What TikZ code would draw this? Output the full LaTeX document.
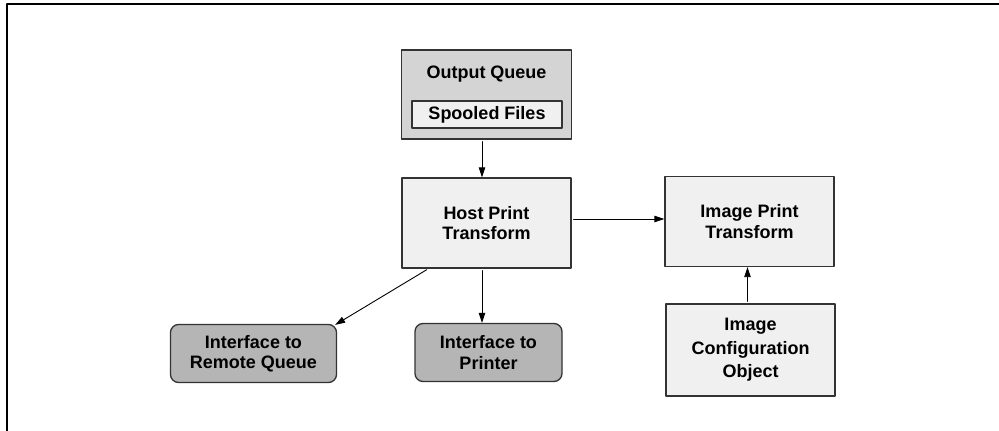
\documentclass[tikz,border=0pt]{standalone}
\usepackage{fontspec}
\setmainfont{Liberation Sans}
\usetikzlibrary{arrows.meta}
\definecolor{queuegray}{gray}{0.83}
\definecolor{paleGray}{gray}{0.94}
\definecolor{ifaceGray}{gray}{0.71}
\definecolor{edgeGray}{gray}{0.2}

\begin{document}
\begin{tikzpicture}[x=1pt,y=-1pt,>={Triangle[length=10pt,width=6.5pt]},line cap=round,line join=round,
  boxfont/.style={font=\bfseries\fontsize{18}{20.5}\selectfont},
  procbox/.style={boxfont,draw=edgeGray,fill=paleGray,line width=1.3pt,minimum width=169pt,minimum height=90pt,inner sep=0pt,align=center},
  ifacebox/.style={boxfont,draw=edgeGray,fill=ifaceGray,line width=1.3pt,rounded corners=8pt,minimum height=58pt,inner sep=0pt,align=center},
  flow/.style={->,line width=0.9pt,shorten <=2pt}]
\useasboundingbox (0,0) rectangle (999,431);
\draw[line width=2pt,line cap=butt] (7,431) -- (7,4) -- (999,4);
% output queue with spooled files
\node[draw=edgeGray,fill=queuegray,line width=1.3pt,minimum width=170pt,minimum height=89pt] (queue) at (486.5,94.5) {};
\node[boxfont] (queuetext) at (486.5,74) {Output Queue};
\node[boxfont,draw=edgeGray,fill=paleGray,line width=1.1pt,minimum width=150pt,minimum height=27pt,inner sep=0pt] (spool) at (487,114.5) {Spooled Files};
% transforms
\node[procbox] (host) at (486.5,223) {Host Print\\Transform};
\node[procbox] (image) at (749.5,221.5) {Image Print\\Transform};
\node[procbox,minimum height=92pt] (config) at (750.5,350) {Image\\[3pt]Configuration\\[3pt]Object};
% interfaces
\node[ifacebox,minimum width=166pt] (remote) at (253.5,353.5) {Interface to\\Remote Queue};
\node[ifacebox,minimum width=147pt] (printer) at (488.5,352.5) {Interface to\\Printer};
% connectors
\draw[flow] ([xshift=-4.5pt]queue.south) -- ([xshift=-4.5pt]host.north);
\draw[flow] ([yshift=4pt]host.east) -- ([yshift=2.5pt]image.west);
\draw[flow] ([xshift=-3pt]config.north) -- ([xshift=-2pt]image.south);
\draw[flow] ([xshift=-58pt]host.south) -- ([xshift=-2pt,yshift=-1pt]remote.north east);
\draw[flow] ([xshift=-4.5pt]host.south) -- ([xshift=-6.5pt]printer.north);
\end{tikzpicture}
\end{document}
